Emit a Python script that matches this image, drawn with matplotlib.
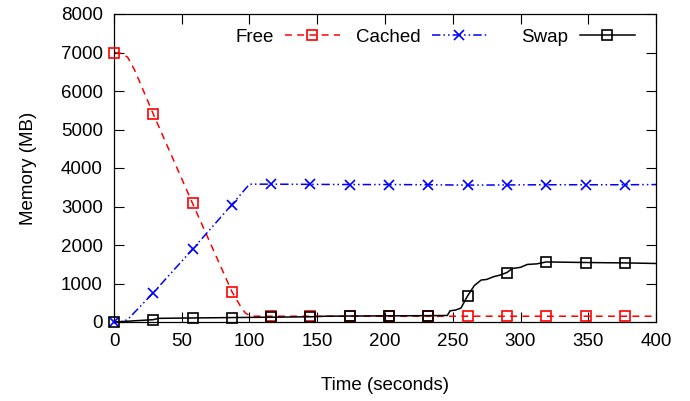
import matplotlib
matplotlib.use("Agg")
import matplotlib.pyplot as plt
from matplotlib.lines import Line2D
import numpy as np

plt.rcParams['font.family'] = ['Liberation Sans', 'DejaVu Sans']
plt.rcParams['font.size'] = 13.5

# sample times where gnuplot drew a point symbol
mark_t = [0, 29, 58, 87, 116, 145, 174, 203, 232, 261, 290, 319, 348, 377]

free_t = [0, 5, 10, 15, 20, 29, 58, 87, 93, 97, 100, 104, 116, 145, 174, 203,
          232, 261, 290, 319, 348, 377, 400]
free_v = [7000, 6980, 6880, 6560, 6150, 5400, 3080, 790, 430, 230, 170, 150,
          150, 150, 150, 150, 150, 150, 150, 150, 150, 150, 150]

cached_t = [0, 5, 10, 29, 58, 87, 100, 116, 145, 174, 203, 232, 261, 290,
            319, 348, 377, 400]
cached_v = [0, 5, 60, 760, 1890, 3050, 3580, 3580, 3575, 3570, 3570, 3565,
            3555, 3560, 3565, 3565, 3565, 3570]

swap_t = [0, 29, 33, 58, 87, 116, 145, 156, 174, 203, 232, 246, 248, 252,
          256, 261, 266, 271, 275, 280, 285, 290, 294, 300, 305, 312, 319,
          348, 377, 400]
swap_v = [0, 60, 95, 105, 115, 125, 135, 150, 155, 160, 165, 170, 290, 310,
          360, 680, 950, 1090, 1105, 1175, 1220, 1285, 1390, 1420, 1495, 1510,
          1560, 1545, 1535, 1520]

series = [
    ("Free", free_t, free_v, "#ff0000", (4.5, 3.5), "s"),
    ("Cached", cached_t, cached_v, "#0000ff", (5.5, 2, 1, 2, 1, 2), "x"),
    ("Swap", swap_t, swap_v, "black", None, "s"),
]

fig = plt.figure(figsize=(6.9, 4.01), dpi=100)
ax = fig.add_axes([114 / 690, 79 / 401, 542 / 690, 308 / 401])

handles = []
for name, t, v, col, dash, mk in series:
    t = np.array(t, dtype=float)
    v = np.array(v, dtype=float)
    ln, = ax.plot(t, v, color=col, lw=1.1)
    if dash:
        ln.set_dashes(dash)
    sel = np.isin(t, mark_t)
    ax.plot(t[sel], v[sel], ls="none", marker=mk, ms=6.5, mew=1.2,
            mfc="none", mec=col, clip_on=False, zorder=3)
    h = Line2D([], [], color=col, lw=1.1, marker=mk, ms=6.5, mew=1.2,
               mfc="none", mec=col)
    if dash:
        h.set_dashes(dash)
    handles.append((h, name))

ax.set_xlim(0, 400)
ax.set_ylim(0, 8000)
ax.set_xticks(np.arange(0, 401, 50))
ax.set_yticks(np.arange(0, 8001, 1000))
ax.tick_params(direction="in", length=7, width=0.8, top=True, right=True,
               pad=8)
for s in ax.spines.values():
    s.set_linewidth(0.9)
ax.set_xlabel("Time (seconds)", labelpad=19)
ax.set_ylabel("Memory (MB)", labelpad=17)

# gnuplot-like key: text right-aligned before each sample
anchors = [(340 - 114) / 542, (487 - 114) / 542, (635 - 114) / 542]
for i, ((h, name), xa) in enumerate(zip(handles, anchors)):
    lg = ax.legend([h], [name], loc="center right", bbox_to_anchor=(xa, 0.925),
                   frameon=False, markerfirst=False, numpoints=1,
                   handlelength=2.95, handletextpad=0.6, borderpad=0,
                   borderaxespad=0)
    if i < len(handles) - 1:
        ax.add_artist(lg)

fig.savefig("out.png", dpi=100)
